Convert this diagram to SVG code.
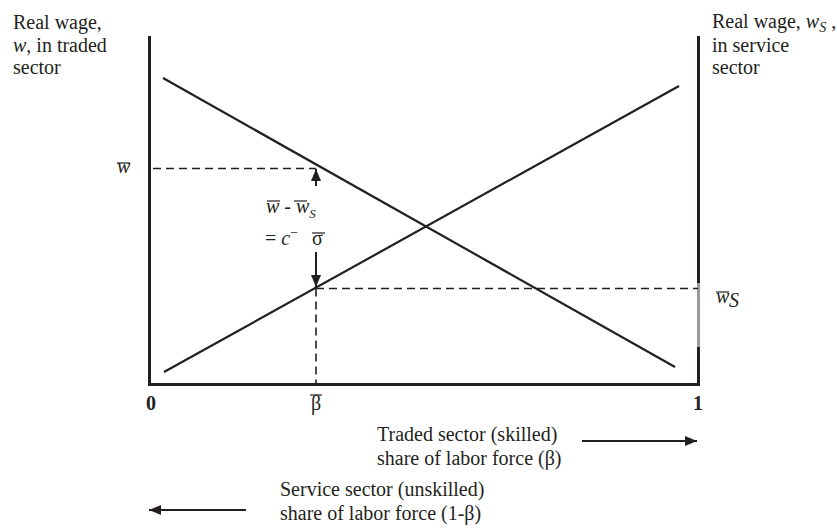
<svg xmlns="http://www.w3.org/2000/svg" width="837" height="529" viewBox="0 0 837 529">
<style>
text{font-family:"Liberation Serif","Times New Roman",serif;font-size:20px;fill:#231f20}
.it{font-style:italic}
.b{font-weight:bold}
.axis{stroke:#231f20;stroke-width:3;fill:none}
.ln{stroke:#231f20;stroke-width:2.2;fill:none}
.dash{stroke:#231f20;stroke-width:1.6;stroke-dasharray:8 5;fill:none}
.ov{stroke:#231f20;stroke-width:1.2}
.arr{stroke:#231f20;stroke-width:2;fill:none}
</style>
<defs>
<marker id="ah" viewBox="0 0 12 10" refX="12" refY="5" markerWidth="12" markerHeight="10" markerUnits="userSpaceOnUse" orient="auto">
<path d="M0,0 L12,5 L0,10 Z" fill="#231f20"/>
</marker>
</defs>
<rect width="837" height="529" fill="#fff"/>

<g id="axes">
<line class="axis" x1="149.5" y1="36" x2="149.5" y2="385"/>
<line class="axis" x1="698.5" y1="36" x2="698.5" y2="385"/>
<line class="axis" x1="148" y1="384.5" x2="700" y2="384.5"/>
<line x1="698.5" y1="283" x2="698.5" y2="347" stroke="#9a9a9a" stroke-width="3"/>
</g>

<g id="connectors">
<line class="ln" x1="163" y1="78" x2="675" y2="367"/>
<line class="ln" x1="164" y1="372" x2="679" y2="86"/>
<line class="dash" x1="153" y1="168.5" x2="316" y2="168.5"/>
<line class="dash" x1="316" y1="288.5" x2="698" y2="288.5"/>
<line class="dash" x1="316" y1="288.5" x2="316" y2="384"/>
<line class="arr" x1="316" y1="186" x2="316" y2="169" marker-end="url(#ah)"/>
<line class="arr" x1="316" y1="252" x2="316" y2="287" marker-end="url(#ah)"/>
<line class="arr" x1="582" y1="441" x2="697" y2="441" marker-end="url(#ah)"/>
<line class="arr" x1="246" y1="510" x2="149" y2="510" marker-end="url(#ah)"/>
</g>

<g id="left-label">
<text x="13" y="29">Real wage,</text>
<text x="13" y="52"><tspan class="it">w</tspan>, in traded</text>
<text x="13" y="74">sector</text>
</g>

<g id="right-label">
<text x="712" y="28">Real wage, <tspan class="it">w</tspan><tspan class="it" font-size="14" dy="4">S</tspan><tspan dy="-4"> ,</tspan></text>
<text x="712" y="52">in service</text>
<text x="712" y="74">sector</text>
</g>

<g id="wbar">
<text class="it" x="117" y="173">w</text>
<line class="ov" x1="117" y1="163" x2="130" y2="163"/>
</g>

<g id="wsbar">
<text class="it" x="716" y="303">w</text>
<text class="it" x="729" y="307" font-size="13">S</text>
<line class="ov" x1="716" y1="292" x2="729" y2="292"/>
</g>

<g id="gap-label">
<text x="266" y="213"><tspan class="it">w</tspan> - <tspan class="it">w</tspan><tspan class="it" font-size="13" dy="5">S</tspan></text>
<line class="ov" x1="267" y1="201" x2="280" y2="201"/>
<line class="ov" x1="294" y1="201" x2="307" y2="201"/>
<text x="265" y="245">= <tspan class="it">c</tspan><tspan font-size="14" dy="-8">−</tspan></text>
<text x="312" y="245" font-size="22">σ</text>
<line class="ov" x1="312" y1="233" x2="325" y2="233"/>
</g>

<g id="x-ticks">
<text class="b" x="151" y="410" text-anchor="middle">0</text>
<text class="b" x="698" y="410" text-anchor="middle">1</text>
<text x="316" y="410" text-anchor="middle">β</text>
<line class="ov" x1="310" y1="395" x2="322" y2="395"/>
</g>

<g id="traded-label">
<text x="377" y="441">Traded sector (skilled)</text>
<text x="377" y="465">share of labor force (β)</text>
</g>

<g id="service-label">
<text x="280" y="496">Service sector (unskilled)</text>
<text x="280" y="520">share of labor force (1-β)</text>
</g>
</svg>
